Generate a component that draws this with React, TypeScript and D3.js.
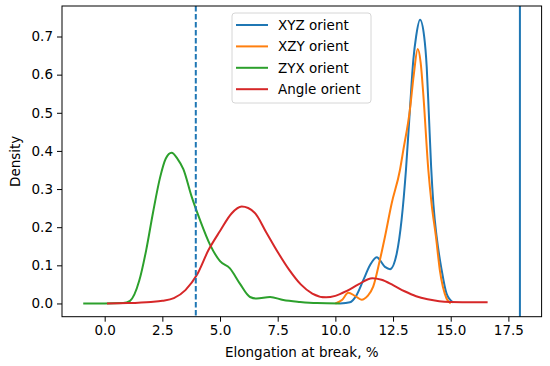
import React, { useEffect, useRef } from "react";
import * as d3 from "d3";

// KDE curves (x = elongation %, y = density)
const xyzX = [10.2, 10.63, 10.9, 11.21, 11.5, 11.79, 12.15, 12.37, 12.66, 12.87, 13.06, 13.23, 13.38, 13.5, 13.67, 13.85, 13.96, 14.05, 14.15, 14.25, 14.39, 14.61, 14.82, 15.1];
const xyzY = [0, 0.003, 0.02, 0.061, 0.1, 0.121, 0.096, 0.09, 0.131, 0.219, 0.35, 0.507, 0.639, 0.7, 0.744, 0.7, 0.62, 0.5, 0.36, 0.26, 0.175, 0.087, 0.026, 0.003];

const xzyX = [10.0, 10.3, 10.56, 10.85, 11.14, 11.4, 11.64, 11.93, 12.15, 12.44, 12.8, 12.94, 13.23, 13.4, 13.57, 13.7, 13.81, 14.03, 14.17, 14.36, 14.53, 14.82, 15.0];
const xzyY = [0, 0.01, 0.028, 0.02, 0.01, 0.02, 0.044, 0.114, 0.175, 0.262, 0.35, 0.4, 0.507, 0.6, 0.667, 0.63, 0.55, 0.35, 0.262, 0.175, 0.087, 0.013, 0];

const zyxX = [-0.93, 0.0, 0.8, 1.1, 1.5, 1.8, 2.1, 2.4, 2.65, 2.9, 3.15, 3.41, 3.77, 4.13, 4.56, 5.0, 5.43, 5.86, 6.3, 6.59, 7.17, 7.74, 8.47, 9.2, 10.2];
const zyxY = [0, 0, 0.001, 0.007, 0.06, 0.14, 0.24, 0.33, 0.38, 0.395, 0.38, 0.352, 0.28, 0.219, 0.155, 0.111, 0.092, 0.052, 0.017, 0.013, 0.017, 0.009, 0.004, 0.001, 0];

const angleX = [0.1, 1.0, 2.0, 2.5, 3.0, 3.5, 4.0, 4.5, 5.0, 5.5, 5.94, 6.5, 7.0, 7.5, 8.0, 8.5, 9.0, 9.6, 10.0, 10.5, 11.0, 11.6, 12.0, 12.5, 13.0, 13.5, 14.0, 14.5, 15.0, 16.0, 16.6];
const angleY = [0, 0.001, 0.004, 0.007, 0.014, 0.035, 0.075, 0.14, 0.19, 0.236, 0.254, 0.238, 0.187, 0.135, 0.088, 0.05, 0.026, 0.016, 0.02, 0.033, 0.05, 0.066, 0.062, 0.048, 0.032, 0.019, 0.011, 0.006, 0.004, 0.003, 0.003];

const seriesNames = ["XYZ orient", "XZY orient", "ZYX orient", "Angle orient"];
const seriesColors = ["#1f77b4", "#ff7f0e", "#2ca02c", "#d62728"];

const xTicks = [0, 2.5, 5, 7.5, 10, 12.5, 15, 17.5];
const yTicks = [0, 0.1, 0.2, 0.3, 0.4, 0.5, 0.6, 0.7];

const dashedLineX = 3.95;
const solidLineX = 18;

const App = () => {
  const svgRef = useRef<SVGSVGElement>(null);

  useEffect(() => {
    const svg = d3.select(svgRef.current);
    svg.selectAll("*").remove();

    const left = 62, right = 541.6, top = 6, bottom = 316.7;
    const font = "'DejaVu Sans', sans-serif";
    const fs = 13.5;

    const x = d3.scaleLinear().domain([-1.85, 18.94]).range([left, right]);
    const y = d3.scaleLinear().domain([-0.0347, 0.78]).range([bottom, top]);

    const series = [
      [xyzX, xyzY],
      [xzyX, xzyY],
      [zyxX, zyxY],
      [angleX, angleY],
    ];

    const line = d3
      .line<[number, number]>()
      .x((d) => x(d[0]))
      .y((d) => y(d[1]))
      .curve(d3.curveMonotoneX);

    const plot = svg.append("g");

    series.forEach(([xs, ys], i) => {
      const pts = xs.map((v, j) => [v, ys[j]] as [number, number]);
      plot
        .append("path")
        .datum(pts)
        .attr("fill", "none")
        .attr("stroke", seriesColors[i])
        .attr("stroke-width", 2)
        .attr("d", line);
    });

    // vertical markers
    plot
      .append("line")
      .attr("x1", x(dashedLineX))
      .attr("x2", x(dashedLineX))
      .attr("y1", top)
      .attr("y2", bottom)
      .attr("stroke", seriesColors[0])
      .attr("stroke-width", 2)
      .attr("stroke-dasharray", "5.5,2.5");

    plot
      .append("line")
      .attr("x1", x(solidLineX))
      .attr("x2", x(solidLineX))
      .attr("y1", top)
      .attr("y2", bottom)
      .attr("stroke", seriesColors[0])
      .attr("stroke-width", 2);

    // axes
    const xAxis = svg
      .append("g")
      .attr("transform", `translate(0,${bottom})`)
      .call(d3.axisBottom(x).tickValues(xTicks).tickFormat(d3.format(".1f")).tickSize(5).tickPadding(4));
    const yAxis = svg
      .append("g")
      .attr("transform", `translate(${left},0)`)
      .call(d3.axisLeft(y).tickValues(yTicks).tickFormat(d3.format(".1f")).tickSize(5).tickPadding(4));

    [xAxis, yAxis].forEach((a) => {
      a.select(".domain").remove();
      a.selectAll("line").attr("stroke", "#000").attr("stroke-width", 1);
      a.selectAll("text")
        .attr("fill", "#000")
        .style("font-family", font)
        .style("font-size", `${fs}px`);
    });

    svg
      .append("rect")
      .attr("x", left)
      .attr("y", top)
      .attr("width", right - left)
      .attr("height", bottom - top)
      .attr("fill", "none")
      .attr("stroke", "#000")
      .attr("stroke-width", 1);

    svg
      .append("text")
      .attr("x", (left + right) / 2)
      .attr("y", 357)
      .attr("text-anchor", "middle")
      .style("font-family", font)
      .style("font-size", `${fs}px`)
      .text("Elongation at break, %");

    svg
      .append("text")
      .attr("transform", `translate(20,${(top + bottom) / 2}) rotate(-90)`)
      .attr("text-anchor", "middle")
      .style("font-family", font)
      .style("font-size", `${fs}px`)
      .text("Density");

    // legend
    const lg = svg.append("g").attr("transform", "translate(232,13)");
    lg.append("rect")
      .attr("width", 139)
      .attr("height", 90)
      .attr("rx", 3)
      .attr("fill", "#fff")
      .attr("fill-opacity", 0.8)
      .attr("stroke", "#d6d6d6");
    seriesNames.forEach((name, i) => {
      const cy = 12 + i * 21.4;
      lg.append("line")
        .attr("x1", 4)
        .attr("x2", 36)
        .attr("y1", cy)
        .attr("y2", cy)
        .attr("stroke", seriesColors[i])
        .attr("stroke-width", 2);
      lg.append("text")
        .attr("x", 46)
        .attr("y", cy)
        .attr("dy", "0.35em")
        .style("font-family", font)
        .style("font-size", `${fs}px`)
        .text(name);
    });
  }, []);

  return (
    <svg
      ref={svgRef}
      width={550}
      height={366}
      style={{ position: "absolute", left: 0, top: 0, background: "#fff" }}
    />
  );
};

export default App;
